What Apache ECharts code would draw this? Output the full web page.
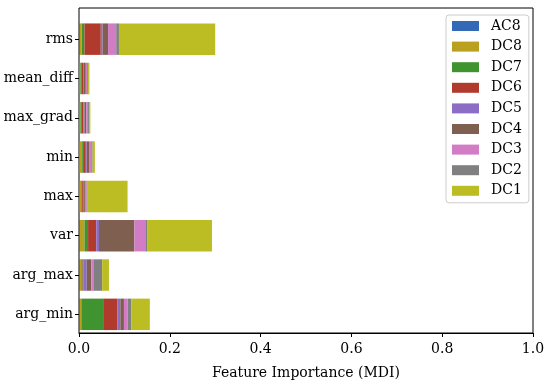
<!DOCTYPE html>
<html>
<head>
<meta charset="utf-8">
<script src="https://cdn.jsdelivr.net/npm/echarts@6/dist/echarts.min.js"></script>
<style>html,body{margin:0;padding:0;background:#fff}#c{width:550px;height:385px}</style>
</head>
<body>
<div id="c"></div>
<script>
var categories = ['rms', 'mean_diff', 'max_grad', 'min', 'max', 'var', 'arg_max', 'arg_min'];
var seriesNames = ['AC8', 'DC8', 'DC7', 'DC6', 'DC5', 'DC4', 'DC3', 'DC2', 'DC1'];
var AC8 = [0.002, 0.001, 0.001, 0.001, 0.001, 0.002, 0.002, 0.002];
var DC8 = [0.004, 0.002, 0.002, 0.006, 0.004, 0.010, 0.003, 0.003];
var DC7 = [0.006, 0.002, 0.002, 0.004, 0.002, 0.008, 0.003, 0.050];
var DC6 = [0.036, 0.004, 0.005, 0.004, 0.002, 0.018, 0.002, 0.030];
var DC5 = [0.004, 0.002, 0.002, 0.002, 0.002, 0.006, 0.007, 0.006];
var DC4 = [0.012, 0.004, 0.004, 0.005, 0.002, 0.078, 0.010, 0.008];
var DC3 = [0.018, 0.003, 0.004, 0.005, 0.004, 0.024, 0.006, 0.008];
var DC2 = [0.006, 0.002, 0.003, 0.003, 0.002, 0.004, 0.018, 0.008];
var DC1 = [0.212, 0.003, 0.002, 0.005, 0.088, 0.143, 0.015, 0.041];
var xTicks = [0.0, 0.2, 0.4, 0.6, 0.8, 1.0];
var values = [AC8, DC8, DC7, DC6, DC5, DC4, DC3, DC2, DC1];
var colors = ['#3469b5', '#b9a01e', '#3f9430', '#b03a2c', '#8c6cc4', '#7f5f50', '#d27cc6', '#808080', '#bcbd22'];

var font = 'DejaVu Serif';
var chart = echarts.init(document.getElementById('c'), null, {renderer: 'canvas'});
var series = seriesNames.map(function (n, i) {
  return {
    name: n, type: 'bar', stack: 'total', xAxisIndex: 1, yAxisIndex: 1,
    barWidth: '80%', data: values[i], itemStyle: {color: colors[i]},
    emphasis: {disabled: true}
  };
});
chart.setOption({
  animation: false,
  textStyle: {fontFamily: font},
  grid: [
    {left: 79, top: 8, width: 454, height: 338, show: true, borderColor: '#000', borderWidth: 1, backgroundColor: 'transparent'},
    {left: 79, top: 19.5, width: 454, height: 314.5}
  ],
  xAxis: [
    {gridIndex: 0, type: 'value', min: 0, max: 1, interval: 0.2,
     axisLine: {show: true, lineStyle: {color: '#000'}},
     axisTick: {show: true, length: 4, lineStyle: {color: '#000'}},
     splitLine: {show: false},
     axisLabel: {fontFamily: font, fontSize: 14, color: '#000', margin: 9,
       formatter: function (v) { return v.toFixed(1); }},
     name: 'Feature Importance (MDI)', nameLocation: 'middle', nameGap: 33,
     nameTextStyle: {fontFamily: font, fontSize: 14, color: '#000'}},
    {gridIndex: 1, type: 'value', min: 0, max: 1, show: false}
  ],
  yAxis: [
    {gridIndex: 0, type: 'value', min: 0, max: 1, show: false},
    {gridIndex: 1, type: 'category', data: categories, inverse: true,
     axisLine: {show: false},
     axisTick: {show: true, alignWithLabel: true, length: 4, lineStyle: {color: '#000'}},
     axisLabel: {fontFamily: font, fontSize: 14, color: '#000', margin: 6}}
  ],
  legend: {
    orient: 'vertical', left: 446, top: 15,
    data: seriesNames,
    itemWidth: 27, itemHeight: 10, itemGap: 6.6,
    padding: [4, 7, 5, 6],
    backgroundColor: 'rgba(255,255,255,0.85)',
    borderColor: '#cccccc', borderWidth: 1, borderRadius: 3,
    icon: 'rect',
    textStyle: {fontFamily: font, fontSize: 14, color: '#000', lineHeight: 14, padding: [0, 0, 0, 7]}
  },
  series: series
});
</script>
</body>
</html>
